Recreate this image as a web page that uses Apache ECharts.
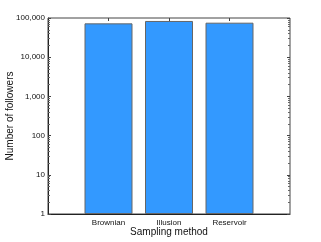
<!DOCTYPE html>
<html><head><meta charset="utf-8">
<script src="https://cdn.jsdelivr.net/npm/echarts@6/dist/echarts.min.js"></script>
<style>html,body{margin:0;padding:0;background:#fff}#c{width:321px;height:242px}</style>
</head><body><div id="c"></div>
<script>
const categories = ['', 'Brownian', 'Illusion', 'Reservoir', ''];
const followers = [null, 73000, 84000, 76000, null];
const yTicks = [1, 10, 100, 1000, 10000, 100000];

const chart = echarts.init(document.getElementById('c'), null, {renderer: 'canvas'});
const font = 'Liberation Sans, Arial, sans-serif';
chart.setOption({
  animation: false,
  grid: {left: 48, right: 31, top: 18, bottom: 28, show: true, borderColor: '#444', borderWidth: 1,
    containLabel: false, outerBoundsMode: 'none'},
  xAxis: [{
    type: 'category', data: categories, boundaryGap: false,
    axisLine: {lineStyle: {color: '#222'}},
    axisTick: {show: false},
    axisLabel: {fontFamily: font, fontSize: 8, color: '#111', margin: 5, interval: 0},
    name: 'Sampling method', nameLocation: 'middle', nameGap: 13, nameMoveOverlap: false,
    nameTextStyle: {fontFamily: font, fontSize: 10, color: '#111'}
  }, {
    type: 'category', data: categories, boundaryGap: false, position: 'top',
    axisLine: {show: false},
    axisTick: {show: true, inside: true, length: 3, lineStyle: {color: '#444'},
      interval: function (i) { return i > 0 && i < 4; }},
    axisLabel: {show: false}
  }],
  yAxis: [{
    type: 'log', logBase: 10, min: 1, max: 100000,
    axisLine: {show: true, lineStyle: {color: '#222'}},
    axisTick: {show: true, inside: true, length: 3, lineStyle: {color: '#444'}},
    minorTick: {show: true, splitNumber: 9, length: 2, lineStyle: {color: '#666'}},
    splitLine: {show: false},
    axisLabel: {fontFamily: font, fontSize: 8, color: '#111', margin: 3,
      formatter: function (v) { return yTicks.indexOf(v) >= 0 ? v.toLocaleString('en-US') : ''; }},
    name: 'Number of followers', nameLocation: 'middle', nameGap: 33, nameMoveOverlap: false,
    nameTextStyle: {fontFamily: font, fontSize: 10, color: '#111'}
  }, {
    type: 'log', logBase: 10, min: 1, max: 100000, position: 'right',
    axisLine: {show: false},
    axisTick: {show: true, inside: true, length: 3, lineStyle: {color: '#444'}},
    minorTick: {show: true, splitNumber: 9, length: 2, lineStyle: {color: '#666'}},
    splitLine: {show: false},
    axisLabel: {show: false}
  }],
  series: [{
    type: 'bar', data: followers, barWidth: 48,
    itemStyle: {color: '#3399ff', borderColor: '#666', borderWidth: 1}
  }]
});
</script></body></html>
